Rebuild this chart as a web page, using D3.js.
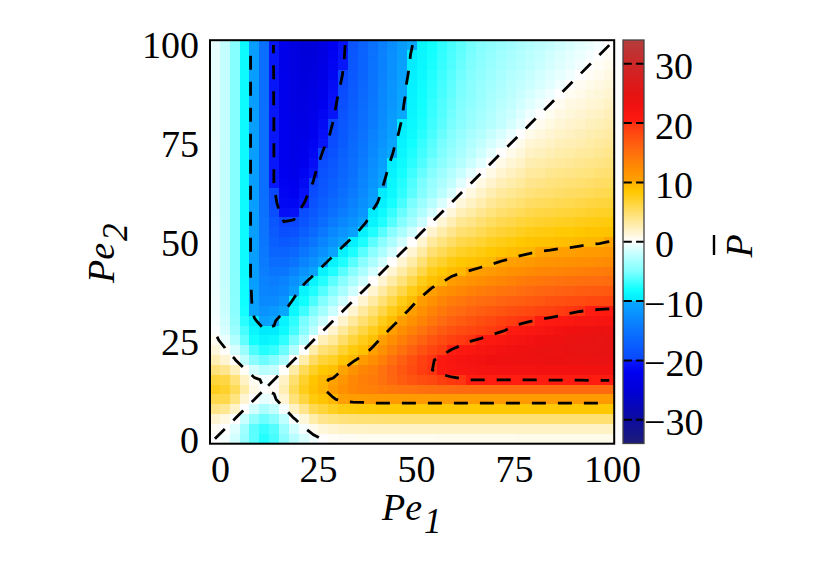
<!DOCTYPE html>
<html><head><meta charset="utf-8">
<script src="https://cdn.jsdelivr.net/npm/d3@7"></script>
<style>
body{margin:0;background:#fff}
text{font-family:"Liberation Serif","Times New Roman",serif}
</style>
</head><body>
<svg id="chart" width="830" height="581"></svg>
<script>
// ---------- data ----------
const pe1 = [0,2.5,5,7.5,10,12.5,15,17.5,20,22.5,25,27.5,30,32.5,35,37.5,40,42.5,45,47.5,50,52.5,55,57.5,60,62.5,65,67.5,70,72.5,75,77.5,80,82.5,85,87.5,90,92.5,95,97.5,100];
const pe2 = [0,2.5,5,7.5,10,12.5,15,17.5,20,22.5,25,27.5,30,32.5,35,37.5,40,42.5,45,47.5,50,52.5,55,57.5,60,62.5,65,67.5,70,72.5,75,77.5,80,82.5,85,87.5,90,92.5,95,97.5,100];
// mean P, one row per Pe2 value (bottom to top), columns follow Pe1
const pBar = [
[0,-0.3,-1.5,-4,-6,-7.5,-6.5,-4.5,-2.5,-1.2,-0.4,0.1,0.3,0.4,0.4,0.5,0.5,0.5,0.5,0.5,0.5,0.5,0.5,0.6,0.6,0.6,0.6,0.6,0.6,0.6,0.6,0.7,0.7,0.7,0.7,0.7,0.7,0.7,0.7,0.7,0.7],
[0.3,0,-1,-3.6,-6,-7,-6.2,-3.8,-1.5,-0.2,0.6,1.3,1.6,1.8,1.9,1.9,2,2,2,2,2,2,2,2,2,2,2,2,2,2,2,2,2,2,2,2,2,2,2,2,2],
[1.5,1,0,-1.8,-4.2,-5.5,-4.5,-2.2,-0.2,1.3,2.8,3.8,4.2,4.5,4.6,4.7,4.7,4.8,4.8,4.8,4.8,4.8,4.8,4.8,4.8,4.8,4.8,4.8,4.8,4.8,4.8,4.8,4.8,4.8,4.8,4.8,4.8,4.8,4.8,4.8,4.8],
[4,3.6,1.8,0,-1.5,-3,-2,-0.3,2,3.8,5.8,6.5,7.3,7.9,8.1,8.2,8.3,8.4,8.4,8.4,8.4,8.4,8.4,8.4,8.4,8.4,8.4,8.4,8.4,8.4,8.4,8.4,8.4,8.4,8.4,8.4,8.4,8.4,8.4,8.4,8.4],
[6,6,4.2,1.5,0,-0.8,-0.4,1.5,4.5,6.3,8,8.8,9.8,10.5,10.7,10.8,11,11,11,11,11,11,11,11,11,11,11,11,11,11,11,11,11,11,11,11,11,11,11,11,11],
[7.5,7,5.5,3,0.8,0,0.3,2.5,5.5,7.5,9,9.9,10.8,12,12.8,13.3,13.6,14,14.3,14.6,14.8,15,15.1,15.3,15.4,15.5,15.5,15.5,15.5,15.5,15.5,15.5,15.5,15.5,15.5,15.5,15.5,15.5,15.5,15.5,15.5],
[6.5,6.2,4.5,2,0.4,-0.3,0,2,4.8,7,8.6,9.8,10.2,11.5,12.8,13.6,14,14.9,15.8,16.6,17.3,17.8,18.2,19,19.5,19.8,20.1,20.1,20.1,20.1,20.1,20.1,20.1,20.1,20.2,20.2,20.2,20.2,20.3,20.3,20.3],
[4.5,3.8,2.2,0.3,-1.5,-2.5,-2,0,3,5.5,7.2,8.4,9,10.1,11.8,13,13.6,14.8,15.9,17,18,19,19.95,20.8,21.3,21.6,21.8,22,22.1,22.2,22.2,22.3,22.3,22.4,22.4,22.5,22.5,22.5,22.6,22.6,22.6],
[2.5,1.5,0.2,-2,-4.5,-5.5,-4.8,-3,0,2.8,5.2,6.6,7.2,8.6,9.6,11,12.2,13.6,15,16.4,17.6,18.8,19.8,20.6,21.4,21.9,22.3,22.6,22.9,23.1,23.2,23.3,23.4,23.5,23.6,23.7,23.8,23.8,23.9,24,24],
[1.2,0.2,-1.3,-3.8,-6.3,-7.5,-7,-5.5,-2.8,0,2.8,4.6,5.2,6.8,8,9,10.5,12,13.5,14.9,16.2,17.4,18.5,19.3,20.1,20.6,21.2,21.7,22.1,22.5,22.8,23.1,23.4,23.6,23.8,24,24.2,24.3,24.4,24.5,24.6],
[0.4,-0.6,-2.8,-5.8,-8,-9,-8.6,-7.2,-5.2,-2.8,0,2.4,3.4,5,6.4,7.6,9,10.6,12.1,13.6,14.9,16.1,17.2,18,18.8,19.4,19.9,20.3,20.8,21.3,21.7,22.1,22.5,22.9,23.2,23.5,23.8,24,24.2,24.4,24.6],
[-0.1,-1.3,-3.8,-6.5,-8.8,-9.9,-9.8,-8.4,-6.6,-4.6,-2.4,0,1.7,3.4,4.9,6.2,7.5,9.1,10.6,12.1,13.4,14.6,15.8,16.7,17.5,18,18.4,18.8,19.3,19.8,20.3,20.8,21.2,21.6,22,22.4,22.8,23.1,23.4,23.6,23.8],
[-0.3,-1.6,-4.2,-7.3,-9.8,-10.8,-10.2,-9,-7.2,-5.2,-3.4,-1.7,0,1.7,3.3,4.8,6,7.6,9.1,10.6,12,13.2,14.4,15.4,16.2,16.8,17.3,17.8,18.3,18.8,19.3,19.6,19.9,20.2,20.5,20.8,21.1,21.4,21.6,21.8,22],
[-0.4,-1.8,-4.5,-7.9,-10.5,-12,-11.5,-10.1,-8.6,-6.8,-5,-3.4,-1.7,0,1.6,3.2,4.6,6.1,7.6,9.2,10.6,11.9,13.2,14.2,15,15.6,16.1,16.5,16.9,17.3,17.7,18,18.3,18.6,18.9,19.2,19.6,19.9,20.1,20.3,20.4],
[-0.4,-1.9,-4.6,-8.1,-10.7,-12.8,-12.8,-11.8,-9.6,-8,-6.4,-4.9,-3.3,-1.6,0,1.6,3.1,4.6,6.1,7.7,9.3,10.7,12,13,13.8,14.4,14.9,15.3,15.6,15.9,16.2,16.5,16.8,17.1,17.4,17.6,17.8,18,18.2,18.3,18.4],
[-0.5,-1.9,-4.7,-8.2,-10.8,-13.3,-13.6,-13,-11,-9,-7.6,-6.2,-4.8,-3.2,-1.6,0,1.6,3.1,4.6,6.1,7.7,9.2,10.5,11.6,12.3,12.8,13.4,13.8,14.2,14.5,14.8,15.2,15.6,15.8,16,16.2,16.4,16.6,16.7,16.8,16.9],
[-0.5,-2,-4.7,-8.3,-11,-13.6,-14,-13.6,-12.2,-10.5,-9,-7.5,-6,-4.6,-3.1,-1.6,0,1.5,3,4.5,6,7.6,9,9.8,10.7,11.2,11.8,12.2,12.6,13,13.4,13.8,14.2,14.4,14.6,14.8,14.9,15,15.1,15.2,15.3],
[-0.5,-2,-4.8,-8.4,-11,-14,-14.9,-14.8,-13.6,-12,-10.6,-9.1,-7.6,-6.1,-4.6,-3.1,-1.5,0,1.5,3,4.5,6.1,7.6,8.4,9.3,9.8,10.2,10.6,11,11.4,11.9,12.2,12.5,12.8,13,13.2,13.4,13.6,13.7,13.8,13.9],
[-0.5,-2,-4.8,-8.4,-11,-14.3,-15.8,-15.9,-15,-13.5,-12.1,-10.6,-9.1,-7.6,-6.1,-4.6,-3,-1.5,0,1.5,3,4.6,6.2,7,7.9,8.5,8.8,9.2,9.6,10.05,10.4,10.8,11.1,11.4,11.6,11.8,11.9,12.1,12.2,12.4,12.5],
[-0.5,-2,-4.8,-8.4,-11,-14.6,-16.6,-17,-16.4,-14.9,-13.6,-12.1,-10.6,-9.2,-7.7,-6.1,-4.5,-3,-1.5,0,1.5,3.1,4.8,5.6,6.5,7.2,7.5,7.9,8.4,8.8,9.1,9.5,9.8,10.05,10.2,10.4,10.5,10.7,10.9,11,11.2],
[-0.5,-2,-4.8,-8.4,-11,-14.8,-17.3,-18,-17.6,-16.2,-14.9,-13.4,-12,-10.6,-9.3,-7.7,-6,-4.5,-3,-1.5,0,1.6,3.3,4.2,5.1,6,6.3,6.8,7.3,7.7,8,8.4,8.7,8.9,9,9.2,9.3,9.5,9.7,9.8,10.05],
[-0.5,-2,-4.8,-8.4,-11,-15,-17.8,-19,-18.8,-17.4,-16.1,-14.6,-13.2,-11.9,-10.7,-9.2,-7.6,-6.1,-4.6,-3.1,-1.6,0,1.7,2.8,3.8,4.8,5.1,5.7,6.3,6.7,7,7.4,7.7,7.9,8,8.2,8.3,8.5,8.7,8.8,8.9],
[-0.5,-2,-4.8,-8.4,-11,-15.1,-18.2,-19.95,-19.8,-18.5,-17.2,-15.8,-14.4,-13.2,-12,-10.5,-9,-7.6,-6.2,-4.8,-3.3,-1.7,0,1.4,2.5,3.6,4,4.7,5.3,5.8,6.1,6.5,6.8,7,7.1,7.3,7.4,7.6,7.8,7.9,8],
[-0.6,-2,-4.8,-8.4,-11,-15.3,-19,-20.8,-20.6,-19.3,-18,-16.7,-15.4,-14.2,-13,-11.6,-9.8,-8.4,-7,-5.6,-4.2,-2.8,-1.4,0,1.2,2.4,3,3.7,4.4,4.9,5.2,5.6,6,6.2,6.3,6.5,6.6,6.8,7,7.1,7.2],
[-0.6,-2,-4.8,-8.4,-11,-15.4,-19.5,-21.3,-21.4,-20.1,-18.8,-17.5,-16.2,-15,-13.8,-12.3,-10.7,-9.3,-7.9,-6.5,-5.1,-3.8,-2.5,-1.2,0,1.2,2,2.7,3.5,4,4.4,4.8,5.2,5.4,5.6,5.8,5.9,6.1,6.3,6.4,6.5],
[-0.6,-2,-4.8,-8.4,-11,-15.5,-19.8,-21.6,-21.9,-20.6,-19.4,-18,-16.8,-15.6,-14.4,-12.8,-11.2,-9.8,-8.5,-7.2,-6,-4.8,-3.6,-2.4,-1.2,0,1,1.8,2.6,3.2,3.6,4,4.5,4.7,4.9,5.1,5.2,5.4,5.6,5.8,5.9],
[-0.6,-2,-4.8,-8.4,-11,-15.5,-20.1,-21.8,-22.3,-21.2,-19.9,-18.4,-17.3,-16.1,-14.9,-13.4,-11.8,-10.2,-8.8,-7.5,-6.3,-5.1,-4,-3,-2,-1,0,0.9,1.7,2.4,2.8,3.3,3.8,4,4.3,4.5,4.6,4.8,5,5.2,5.3],
[-0.6,-2,-4.8,-8.4,-11,-15.5,-20.1,-22,-22.6,-21.7,-20.3,-18.8,-17.8,-16.5,-15.3,-13.8,-12.2,-10.6,-9.2,-7.9,-6.8,-5.7,-4.7,-3.7,-2.7,-1.8,-0.9,0,0.85,1.6,2.1,2.6,3.2,3.4,3.7,3.9,4,4.2,4.4,4.6,4.8],
[-0.6,-2,-4.8,-8.4,-11,-15.5,-20.1,-22.1,-22.9,-22.1,-20.8,-19.3,-18.3,-16.9,-15.6,-14.2,-12.6,-11,-9.6,-8.4,-7.3,-6.3,-5.3,-4.4,-3.5,-2.6,-1.7,-0.85,0,0.8,1.4,1.9,2.6,2.8,3.1,3.3,3.5,3.7,3.9,4.1,4.3],
[-0.6,-2,-4.8,-8.4,-11,-15.5,-20.1,-22.2,-23.1,-22.5,-21.3,-19.8,-18.8,-17.3,-15.9,-14.5,-13,-11.4,-10.05,-8.8,-7.7,-6.7,-5.8,-4.9,-4,-3.2,-2.4,-1.6,-0.8,0,0.7,1.3,2,2.2,2.5,2.8,3,3.2,3.4,3.6,3.9],
[-0.6,-2,-4.8,-8.4,-11,-15.5,-20.1,-22.2,-23.2,-22.8,-21.7,-20.3,-19.3,-17.7,-16.2,-14.8,-13.4,-11.9,-10.4,-9.1,-8,-7,-6.1,-5.2,-4.4,-3.6,-2.8,-2.1,-1.4,-0.7,0,0.65,1.4,1.7,2,2.3,2.5,2.7,3,3.2,3.5],
[-0.7,-2,-4.8,-8.4,-11,-15.5,-20.1,-22.3,-23.3,-23.1,-22.1,-20.8,-19.6,-18,-16.5,-15.2,-13.8,-12.2,-10.8,-9.5,-8.4,-7.4,-6.5,-5.6,-4.8,-4,-3.3,-2.6,-1.9,-1.3,-0.65,0,0.7,1.1,1.5,1.8,2.1,2.3,2.6,2.8,3.1],
[-0.7,-2,-4.8,-8.4,-11,-15.5,-20.1,-22.3,-23.4,-23.4,-22.5,-21.2,-19.9,-18.3,-16.8,-15.6,-14.2,-12.5,-11.1,-9.8,-8.7,-7.7,-6.8,-6,-5.2,-4.5,-3.8,-3.2,-2.6,-2,-1.4,-0.7,0,0.55,1,1.35,1.7,1.9,2.2,2.4,2.7],
[-0.7,-2,-4.8,-8.4,-11,-15.5,-20.1,-22.4,-23.5,-23.6,-22.9,-21.6,-20.2,-18.6,-17.1,-15.8,-14.4,-12.8,-11.4,-10.05,-8.9,-7.9,-7,-6.2,-5.4,-4.7,-4,-3.4,-2.8,-2.2,-1.7,-1.1,-0.55,0,0.5,0.9,1.3,1.5,1.8,2,2.3],
[-0.7,-2,-4.8,-8.4,-11,-15.5,-20.2,-22.4,-23.6,-23.8,-23.2,-22,-20.5,-18.9,-17.4,-16,-14.6,-13,-11.6,-10.2,-9,-8,-7.1,-6.3,-5.6,-4.9,-4.3,-3.7,-3.1,-2.5,-2,-1.5,-1,-0.5,0,0.45,0.9,1.1,1.4,1.6,1.95],
[-0.7,-2,-4.8,-8.4,-11,-15.5,-20.2,-22.5,-23.7,-24,-23.5,-22.4,-20.8,-19.2,-17.6,-16.2,-14.8,-13.2,-11.8,-10.4,-9.2,-8.2,-7.3,-6.5,-5.8,-5.1,-4.5,-3.9,-3.3,-2.8,-2.3,-1.8,-1.35,-0.9,-0.45,0,0.45,0.75,1.05,1.25,1.6],
[-0.7,-2,-4.8,-8.4,-11,-15.5,-20.2,-22.5,-23.8,-24.2,-23.8,-22.8,-21.1,-19.6,-17.8,-16.4,-14.9,-13.4,-11.9,-10.5,-9.3,-8.3,-7.4,-6.6,-5.9,-5.2,-4.6,-4,-3.5,-3,-2.5,-2.1,-1.7,-1.3,-0.9,-0.45,0,0.4,0.7,0.9,1.25],
[-0.7,-2,-4.8,-8.4,-11,-15.5,-20.2,-22.5,-23.8,-24.3,-24,-23.1,-21.4,-19.9,-18,-16.6,-15,-13.6,-12.1,-10.7,-9.5,-8.5,-7.6,-6.8,-6.1,-5.4,-4.8,-4.2,-3.7,-3.2,-2.7,-2.3,-1.9,-1.5,-1.1,-0.75,-0.4,0,0.35,0.6,0.9],
[-0.7,-2,-4.8,-8.4,-11,-15.5,-20.3,-22.6,-23.9,-24.4,-24.2,-23.4,-21.6,-20.1,-18.2,-16.7,-15.1,-13.7,-12.2,-10.9,-9.7,-8.7,-7.8,-7,-6.3,-5.6,-5,-4.4,-3.9,-3.4,-3,-2.6,-2.2,-1.8,-1.4,-1.05,-0.7,-0.35,0,0.3,0.6],
[-0.7,-2,-4.8,-8.4,-11,-15.5,-20.3,-22.6,-24,-24.5,-24.4,-23.6,-21.8,-20.3,-18.3,-16.8,-15.2,-13.8,-12.4,-11,-9.8,-8.8,-7.9,-7.1,-6.4,-5.8,-5.2,-4.6,-4.1,-3.6,-3.2,-2.8,-2.4,-2,-1.6,-1.25,-0.9,-0.6,-0.3,0,0.3],
[-0.7,-2,-4.8,-8.4,-11,-15.5,-20.3,-22.6,-24,-24.6,-24.6,-23.8,-22,-20.4,-18.4,-16.9,-15.3,-13.9,-12.5,-11.2,-10.05,-8.9,-8,-7.2,-6.5,-5.9,-5.3,-4.8,-4.3,-3.9,-3.5,-3.1,-2.7,-2.3,-1.95,-1.6,-1.25,-0.9,-0.6,-0.3,0]
];
const contourLevels = [-30,-20,-10,0,10,20,30];
const axisTicks = [0,25,50,75,100];
const colorbarTicks = [-30,-20,-10,0,10,20,30];
const colorbarRange = [-34,34];

// colormap (style)
const cmapValues = [-34,-30,-25,-22,-20.01,-20,-15,-10.01,-10,-8,-5,-2,-0.5,0,0.5,2,4.8,8.4,10,10.01,12,15.5,20,20.01,23,25,30,34];
const cmapColors = ["#1c1c78","#0c0ca0","#0000d8","#0000f0","#0818fa","#0a46ff","#0a74ff","#08a8ff","#00eaff","#10ffff","#80ffff","#c4ffff","#eeffff","#ffffff","#fffcf0","#fff2c4","#ffe070","#ffc800","#ffb400","#ffa400","#ff9000","#ff6a10","#ff3210","#ff1c10","#f01010","#e41414","#cc2828","#b43c3c"];

// ---------- drawing ----------
const svg = d3.select("#chart");
const X0 = 210, X1 = 614.2, Y0 = 40.2, Y1 = 443.7;
const step = pe1[1] - pe1[0];
const xGrid = d3.scaleLinear().domain([pe1[0]-step/2, pe1[pe1.length-1]+step/2]).range([X0, X1]);
const yGrid = d3.scaleLinear().domain([pe2[0]-step/2, pe2[pe2.length-1]+step/2]).range([Y1, Y0]);
const color = d3.scaleLinear().domain(cmapValues).range(cmapColors).interpolate(d3.interpolateRgb).clamp(true);

const cells = [];
pBar.forEach((row, j) => row.forEach((v, i) => cells.push({x: pe1[i], y: pe2[j], v})));
svg.append("g").selectAll("rect").data(cells).join("rect")
  .attr("x", d => xGrid(d.x - step/2))
  .attr("y", d => yGrid(d.y + step/2))
  .attr("width", d => xGrid(d.x + step/2) - xGrid(d.x - step/2))
  .attr("height", d => yGrid(d.y - step/2) - yGrid(d.y + step/2))
  .attr("fill", d => color(d.v))
  .attr("shape-rendering", "crispEdges");

// contours
const nx = pe1.length, ny = pe2.length;
const flat = [];
for (let r = ny - 1; r >= 0; r--) for (let c = 0; c < nx; c++) flat.push(pBar[r][c]);
const contourGen = d3.contours().size([nx, ny]).smooth(true);
const gx = g => xGrid(pe1[0] - step/2 + g*step);
const gy = g => yGrid(pe2[ny-1] + step/2 - g*step);
const eps = 1e-9;
const onBorder = p => p[0] <= eps || p[0] >= nx - eps || p[1] <= eps || p[1] >= ny - eps;
const lines = [];
contourLevels.forEach(level => {
  const geo = contourGen.contour(flat, level);
  geo.coordinates.forEach(poly => poly.forEach(ring => {
    let pts = ring.slice();
    if (pts.length > 1) {
      const a = pts[0], b = pts[pts.length-1];
      if (a[0] === b[0] && a[1] === b[1]) pts = pts.slice(0, -1);
    }
    if (pts.length < 2) return;
    const k = pts.findIndex(onBorder);
    if (k < 0) { lines.push(pts.concat([pts[0]])); return; }
    const rot = pts.slice(k).concat(pts.slice(0, k)).concat([pts[k]]);
    let cur = [];
    for (let t = 0; t < rot.length - 1; t++) {
      const a = rot[t], b = rot[t+1];
      if (!onBorder(a) && !onBorder(b)) {
        if (cur.length === 0) cur.push(a);
        cur.push(b);
      } else {
        if (cur.length > 1) lines.push(cur);
        cur = [];
      }
    }
    if (cur.length > 1) lines.push(cur);
  }));
});
const lineGen = d3.line().x(p => gx(p[0])).y(p => gy(p[1]));
svg.append("g").selectAll("path").data(lines).join("path")
  .attr("d", lineGen)
  .attr("fill", "none").attr("stroke", "#000").attr("stroke-width", 2.8)
  .attr("stroke-dasharray", "14,12").attr("stroke-linecap", "butt");

// frame
svg.append("rect").attr("x", X0).attr("y", Y0).attr("width", X1 - X0).attr("height", Y1 - Y0)
  .attr("fill", "none").attr("stroke", "#000").attr("stroke-width", 2);

// axes
const xTick = d3.scaleLinear().domain([0, 100]).range([220, 612]);
const yTick = d3.scaleLinear().domain([0, 100]).range([439.8, 45]);
const gX = svg.append("g").attr("transform", "translate(0,455)")
  .call(d3.axisBottom(xTick).tickValues(axisTicks).tickSize(0).tickPadding(0));
const gY = svg.append("g").attr("transform", "translate(199,0)")
  .call(d3.axisLeft(yTick).tickValues(axisTicks).tickSize(0).tickPadding(0));
[gX, gY].forEach(g => {
  g.select(".domain").remove();
  g.selectAll("line").remove();
  g.attr("font-family", '"Liberation Serif","Times New Roman",serif').attr("font-size", 38);
  g.selectAll("text").attr("fill", "#000");
});
gY.selectAll("text").attr("dy", "0.34em");

// axis titles
const xt = svg.append("text").attr("x", 382).attr("y", 520).attr("font-size", 38).attr("font-style", "italic");
xt.append("tspan").text("Pe");
xt.append("tspan").attr("dy", 13).attr("dx", 2).attr("font-size", 35).text("1");
const yt = svg.append("text").attr("transform", "translate(114,283) rotate(-90)").attr("font-size", 38).attr("font-style", "italic");
yt.append("tspan").text("Pe");
yt.append("tspan").attr("dy", 13).attr("dx", 2).attr("font-size", 35).text("2");

// colorbar
const cb = d3.scaleLinear().domain(colorbarRange).range([443.5, 40]);
const CBX = 623, CBW = 21;
const rowsPx = d3.range(Math.floor(cb(colorbarRange[1])), Math.ceil(cb(colorbarRange[0])), 1);
svg.append("g").selectAll("rect").data(rowsPx).join("rect")
  .attr("x", CBX).attr("y", d => d).attr("width", CBW).attr("height", 1.05)
  .attr("fill", d => color(cb.invert(d + 0.5)))
  .attr("shape-rendering", "crispEdges");
svg.append("g").selectAll("line").data(contourLevels).join("line")
  .attr("x1", CBX + 0.3).attr("x2", CBX + CBW).attr("y1", d => cb(d)).attr("y2", d => cb(d))
  .attr("stroke", "#000").attr("stroke-width", 2).attr("stroke-dasharray", "8.5,4.3");
svg.append("rect").attr("x", CBX).attr("y", cb(colorbarRange[1])).attr("width", CBW)
  .attr("height", cb(colorbarRange[0]) - cb(colorbarRange[1]))
  .attr("fill", "none").attr("stroke", "#444").attr("stroke-width", 1.3);
const gC = svg.append("g").attr("transform", "translate(644,0)")
  .call(d3.axisRight(cb).tickValues(colorbarTicks).tickSize(0).tickPadding(0).tickFormat(d3.format("d")));
gC.select(".domain").remove();
gC.selectAll("line").remove();
gC.attr("font-family", '"Liberation Serif","Times New Roman",serif').attr("font-size", 38);
gC.selectAll("text").attr("fill", "#000").attr("dy", "0.4em").attr("x", d => d < 0 ? 0 : 11);

// colorbar title: P with overbar
const cbt = svg.append("g").attr("transform", "translate(752,246) rotate(-90)");
cbt.append("text").attr("x", 0).attr("y", 0).attr("text-anchor", "middle")
  .attr("font-size", 38).attr("font-style", "italic").attr("fill", "#000").text("P");
cbt.append("line").attr("x1", -9).attr("x2", 11).attr("y1", -38).attr("y2", -38)
  .attr("stroke", "#000").attr("stroke-width", 2.4);
</script>
</body></html>
